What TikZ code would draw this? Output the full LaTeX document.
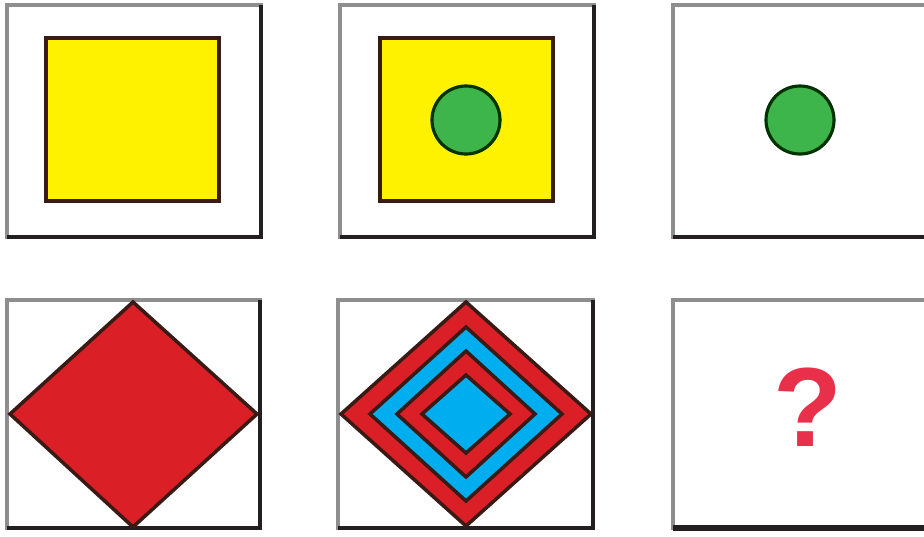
\documentclass[tikz,border=0pt]{standalone}
\usepackage{fontspec}
\setmainfont{Liberation Sans}
\definecolor{framegray}{HTML}{8E8E8E}
\definecolor{framedark}{HTML}{231F20}
\definecolor{edgedark}{HTML}{3A1A14}
\definecolor{sqyellow}{HTML}{FFF200}
\definecolor{dotgreen}{HTML}{3DB54A}
\definecolor{dmred}{HTML}{DA1F26}
\definecolor{dmblue}{HTML}{00AEEF}
\definecolor{qred}{HTML}{E8304A}

\begin{document}
\begin{tikzpicture}[x=0.01cm,y=-0.01cm,
  panel/.style={draw=framegray,line width=1pt},
  shadow/.style={draw=framedark,line width=1.2pt},
  outline/.style={draw=edgedark,line width=1pt}]
\clip (0,0) rectangle (924,536);
\fill[white] (0,0) rectangle (924,536);
% top row
\begin{scope}[shift={(7,5)}]
\draw[panel] (0,0) rectangle (254,232);
\draw[shadow] (254,0) -- (254,232) -- (0,232);
\filldraw[fill=sqyellow,outline] (39,33) rectangle (212,196);
\end{scope}
\begin{scope}[shift={(340,5)}]
\draw[panel] (0,0) rectangle (254,232);
\draw[shadow] (254,0) -- (254,232) -- (0,232);
\filldraw[fill=sqyellow,outline] (40,33) rectangle (213,196);
\filldraw[fill=dotgreen,draw=black!80!green,line width=0.9pt] (126,115) circle[radius=34];
\end{scope}
\begin{scope}[shift={(673,5)}]
\draw[panel] (0,0) rectangle (270,232);
\draw[shadow] (0,232) -- (270,232);
\filldraw[fill=dotgreen,draw=black!80!green,line width=0.9pt] (127,115) circle[radius=34];
\end{scope}
% bottom row
\begin{scope}[shift={(7,300)}]
\draw[panel] (0,0) rectangle (253,228);
\draw[shadow] (253,0) -- (253,228) -- (0,228);
\filldraw[fill=dmred,outline] (126,2) -- (250,114) -- (126,227) -- (3,114) -- cycle;
\end{scope}
\begin{scope}[shift={(338,300)}]
\draw[panel] (0,0) rectangle (255,228);
\draw[shadow] (255,0) -- (255,228) -- (0,228);
\foreach \w/\h/\c in {125/112/dmred,96/87/dmblue,69/63/dmred,44/39/dmblue}
  \filldraw[fill=\c,outline] (128,{114-\h}) -- ({128+\w},114) -- (128,{114+\h}) -- ({128-\w},114) -- cycle;
\end{scope}
\begin{scope}[shift={(673,300)}]
\draw[panel] (0,0) rectangle (270,228);
\draw[framedark,line width=1.6pt] (0,228) -- (270,228);
\node[text=qred,font=\bfseries\fontsize{32}{36}\selectfont,inner sep=0pt] (qmark) at (135,107) {?};
\end{scope}
\end{tikzpicture}
\end{document}
